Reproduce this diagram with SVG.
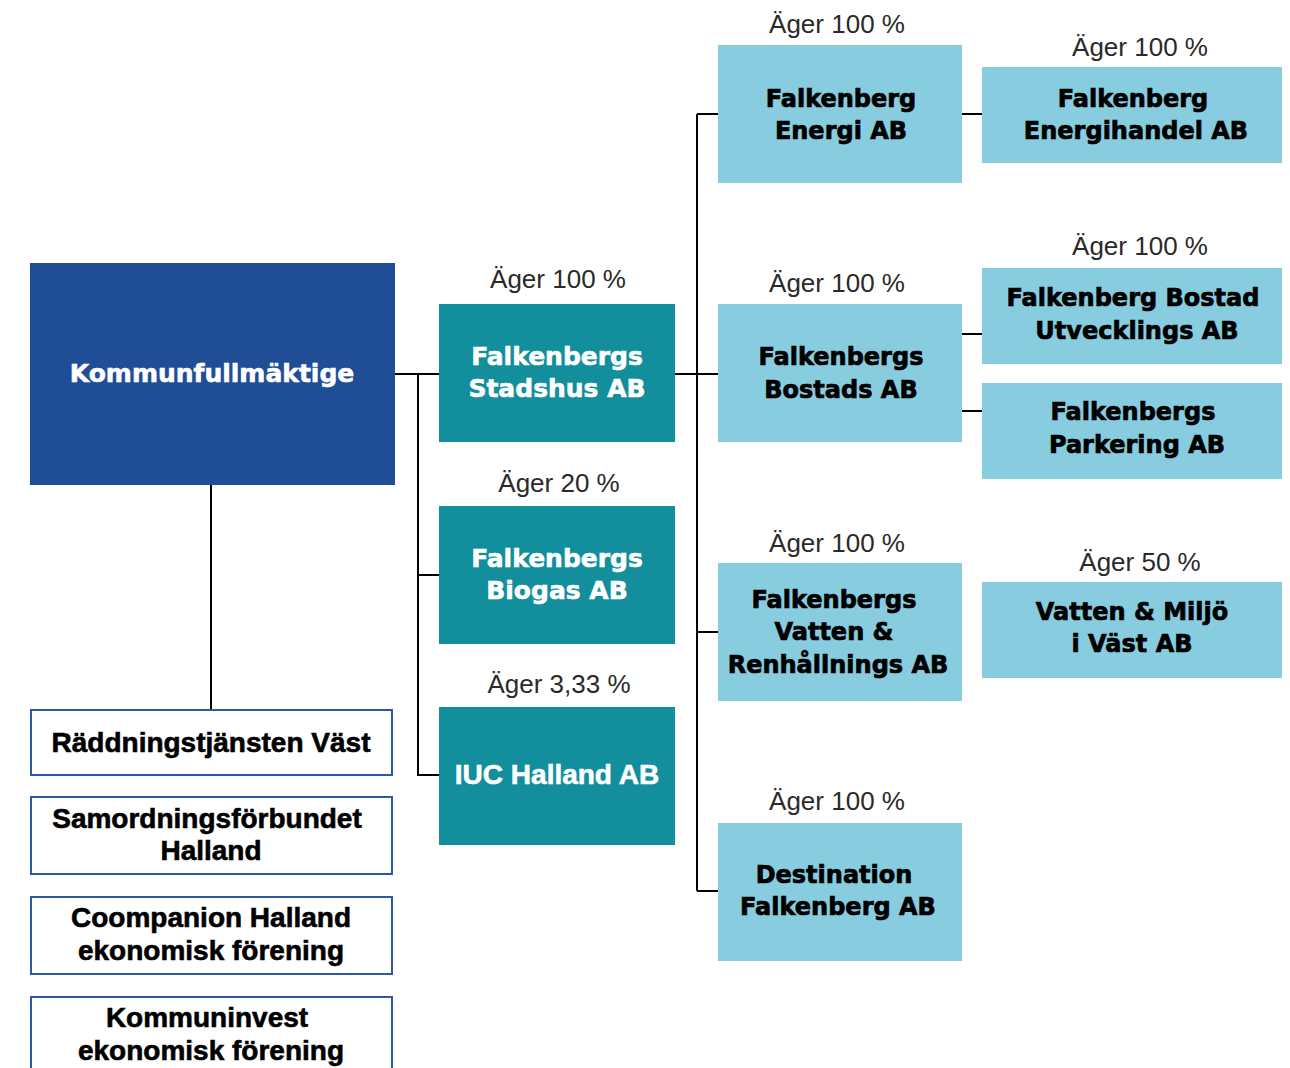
<svg xmlns="http://www.w3.org/2000/svg" width="1290" height="1068" viewBox="0 0 1290 1068">
<style>
.kf{fill:#1f4e96}
.teal{fill:#128e9d}
.lb{fill:#87cddf}
.wb{fill:#fff;stroke:#2b57a5;stroke-width:2}
.tw{font-family:"DejaVu Sans",sans-serif;font-weight:bold;font-size:25px;fill:#fff;stroke:#fff;stroke-width:0.6;text-anchor:middle}
.tb{font-family:"DejaVu Sans",sans-serif;font-weight:bold;font-size:24px;fill:#000;stroke:#000;stroke-width:0.7;text-anchor:middle}
.tc{font-family:"Liberation Sans",Arial,sans-serif;font-weight:bold;font-size:28px;fill:#000;stroke:#000;stroke-width:0.6;text-anchor:middle}
.tcw{font-family:"Liberation Sans",Arial,sans-serif;font-weight:bold;font-size:28px;fill:#fff;stroke:#fff;stroke-width:0.6;text-anchor:middle}
.own{font-family:"Liberation Sans",Arial,sans-serif;font-size:26px;fill:#2a2a2a;text-anchor:middle}
.ln{fill:none;stroke:#000;stroke-width:2}
</style>
<rect width="1290" height="1068" fill="#fff"/>
<g id="connectors">
<path class="ln" d="M395 374H439M418 374V775H439M418 575H439"/>
<path class="ln" d="M675 374H718M697 114V891M697 114H718M697 632H718M697 891H718"/>
<path class="ln" d="M962 114H982M962 334H982M962 411H982"/>
<path class="ln" d="M211 485V710"/>
</g>
<g id="kommunfullmaktige">
<rect class="kf" x="30" y="263" width="365" height="222"/>
<text class="tw" x="212" y="382">Kommunfullmäktige</text>
</g>
<g id="stadshus">
<text class="own" x="558" y="288">Äger 100 %</text>
<rect class="teal" x="439" y="304" width="236" height="138"/>
<text class="tw" x="557" y="365">Falkenbergs</text>
<text class="tw" x="557" y="397">Stadshus AB</text>
</g>
<g id="biogas">
<text class="own" x="559" y="492">Äger 20 %</text>
<rect class="teal" x="439" y="506" width="236" height="138"/>
<text class="tw" x="557" y="567">Falkenbergs</text>
<text class="tw" x="557" y="599">Biogas AB</text>
</g>
<g id="iuc">
<text class="own" x="559" y="693">Äger 3,33 %</text>
<rect class="teal" x="439" y="707" width="236" height="138"/>
<text class="tcw" x="557" y="784">IUC Halland AB</text>
</g>
<g id="energi">
<text class="own" x="837" y="33">Äger 100 %</text>
<rect class="lb" x="718" y="45" width="244" height="138"/>
<text class="tb" x="841" y="107">Falkenberg</text>
<text class="tb" x="841" y="139">Energi AB</text>
</g>
<g id="energihandel">
<text class="own" x="1140" y="56">Äger 100 %</text>
<rect class="lb" x="982" y="67" width="300" height="96"/>
<text class="tb" x="1133" y="107">Falkenberg</text>
<text class="tb" x="1136" y="139">Energihandel AB</text>
</g>
<g id="bostads">
<text class="own" x="837" y="292">Äger 100 %</text>
<rect class="lb" x="718" y="304" width="244" height="138"/>
<text class="tb" x="841" y="365">Falkenbergs</text>
<text class="tb" x="841" y="398">Bostads AB</text>
</g>
<g id="bostadutveckling">
<text class="own" x="1140" y="255">Äger 100 %</text>
<rect class="lb" x="982" y="268" width="300" height="96"/>
<text class="tb" x="1133" y="306">Falkenberg Bostad</text>
<text class="tb" x="1137" y="339">Utvecklings AB</text>
</g>
<g id="parkering">
<rect class="lb" x="982" y="383" width="300" height="96"/>
<text class="tb" x="1133" y="420">Falkenbergs</text>
<text class="tb" x="1137" y="453">Parkering AB</text>
</g>
<g id="vatten">
<text class="own" x="837" y="552">Äger 100 %</text>
<rect class="lb" x="718" y="563" width="244" height="138"/>
<text class="tb" x="834" y="608">Falkenbergs</text>
<text class="tb" x="834" y="640">Vatten &amp;</text>
<text class="tb" x="838" y="673">Renhållnings AB</text>
</g>
<g id="vattenmiljo">
<text class="own" x="1140" y="571">Äger 50 %</text>
<rect class="lb" x="982" y="582" width="300" height="96"/>
<text class="tb" x="1132" y="620">Vatten &amp; Miljö</text>
<text class="tb" x="1132" y="652">i Väst AB</text>
</g>
<g id="destination">
<text class="own" x="837" y="810">Äger 100 %</text>
<rect class="lb" x="718" y="823" width="244" height="138"/>
<text class="tb" x="834" y="883">Destination</text>
<text class="tb" x="838" y="915">Falkenberg AB</text>
</g>
<g id="raddning">
<rect class="wb" x="31" y="710" width="361" height="65"/>
<text class="tc" x="211" y="752">Räddningstjänsten Väst</text>
</g>
<g id="samordning">
<rect class="wb" x="31" y="797" width="361" height="77"/>
<text class="tc" x="207" y="828">Samordningsförbundet</text>
<text class="tc" x="211" y="860">Halland</text>
</g>
<g id="coompanion">
<rect class="wb" x="31" y="897" width="361" height="77"/>
<text class="tc" x="211" y="927">Coompanion Halland</text>
<text class="tc" x="211" y="960">ekonomisk förening</text>
</g>
<g id="kommuninvest">
<rect class="wb" x="31" y="997" width="361" height="80"/>
<text class="tc" x="207" y="1027">Kommuninvest</text>
<text class="tc" x="211" y="1060">ekonomisk förening</text>
</g>
</svg>
